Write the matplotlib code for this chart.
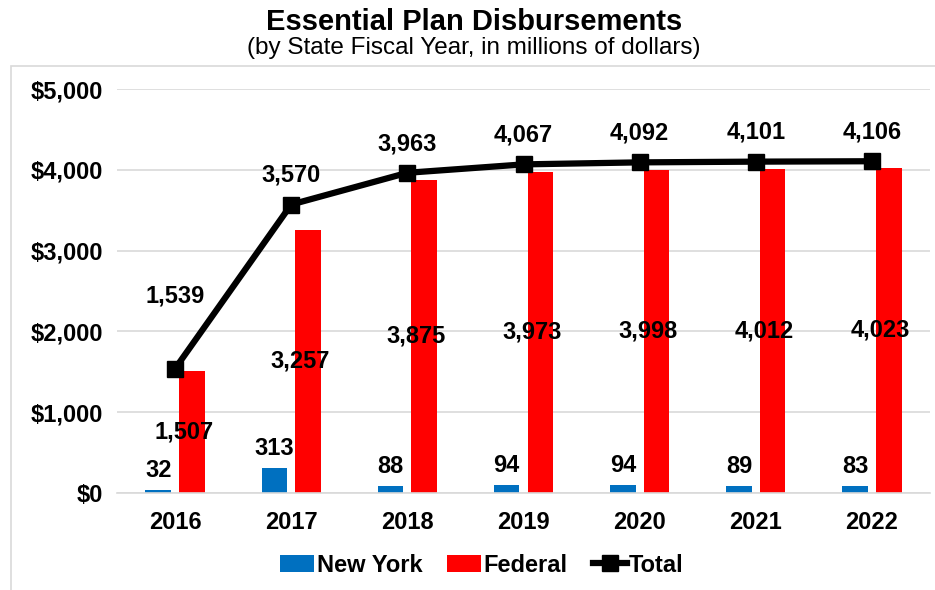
import numpy as np
import matplotlib.pyplot as plt
from matplotlib.patches import Rectangle

plt.rcParams['font.family'] = ['Liberation Sans', 'DejaVu Sans']

years = ["2016", "2017", "2018", "2019", "2020", "2021", "2022"]
new_york = [32, 313, 88, 94, 94, 89, 83]
federal = [1507, 3257, 3875, 3973, 3998, 4012, 4023]
total = [1539, 3570, 3963, 4067, 4092, 4101, 4106]
yticks = [0, 1000, 2000, 3000, 4000, 5000]

blue = "#0070C0"
red = "#FF0000"
grid = "#D9D9D9"

fig = plt.figure(figsize=(9.35, 5.9), dpi=100)
# chart border (Excel chart area)
fig.patches.append(Rectangle((11 / 935, -0.1), 1.0, (590 - 66) / 590 + 0.1,
                             transform=fig.transFigure, fill=False,
                             edgecolor=grid, lw=1.2))

ax = fig.add_axes([117 / 935, 97 / 590, 813 / 935, 404 / 590])
x = np.arange(len(years))
w = 0.22
off = 0.145

b1 = ax.bar(x - off, new_york, w, color=blue, zorder=2, label="New York")
b2 = ax.bar(x + off, federal, w, color=red, zorder=2, label="Federal")
l1, = ax.plot(x, total, color="black", lw=4.5, marker="s", ms=12, zorder=3,
              label="Total")

fs = 17
for i in range(len(years)):
    ax.annotate(f"{new_york[i]:,}", (x[i] - off, new_york[i]), xytext=(0, 14),
                textcoords="offset points", ha="center", va="center",
                fontsize=fs, fontweight="bold")
    ax.text(x[i] + 0.075, federal[i] / 2, f"{federal[i]:,}", ha="center", va="center",
            fontsize=fs, fontweight="bold", zorder=4)
    dy = 52 if i == 0 else 21
    ax.annotate(f"{total[i]:,}", (x[i], total[i]), xytext=(0, dy),
                textcoords="offset points", ha="center", va="center",
                fontsize=fs, fontweight="bold", zorder=4)

ax.set_xlim(-0.5, len(years) - 0.5)
ax.set_ylim(0, 5000)
ax.set_yticks(yticks)
ax.set_yticklabels([f"${v:,}" for v in yticks])
ax.set_xticks(x)
ax.set_xticklabels(years)
ax.tick_params(axis="y", length=0, labelsize=fs, pad=10)
ax.tick_params(axis="x", length=0, labelsize=fs, pad=13)
for lab in ax.get_xticklabels() + ax.get_yticklabels():
    lab.set_fontweight("bold")
ax.yaxis.grid(True, color=grid, lw=1.2, zorder=0)
ax.set_axisbelow(True)
for s in ["top", "right", "left"]:
    ax.spines[s].set_visible(False)
ax.spines["bottom"].set_color(grid)
ax.spines["bottom"].set_linewidth(1.2)

fig.text(474 / 935, 1 - 22 / 590, "Essential Plan Disbursements", ha="center",
         va="center", fontsize=21, fontweight="bold")
fig.text(474 / 935, 1 - 48 / 590, "(by State Fiscal Year, in millions of dollars)",
         ha="center", va="center", fontsize=17.5)

fig.legend(handles=[b1, b2, l1], loc="center",
           bbox_to_anchor=(482 / 935, 1 - 565 / 590), ncol=3, frameon=False,
           prop={"size": fs, "weight": "bold"}, handlelength=1.45,
           handletextpad=0.1, columnspacing=1.05)

fig.savefig("out.png", dpi=100)
